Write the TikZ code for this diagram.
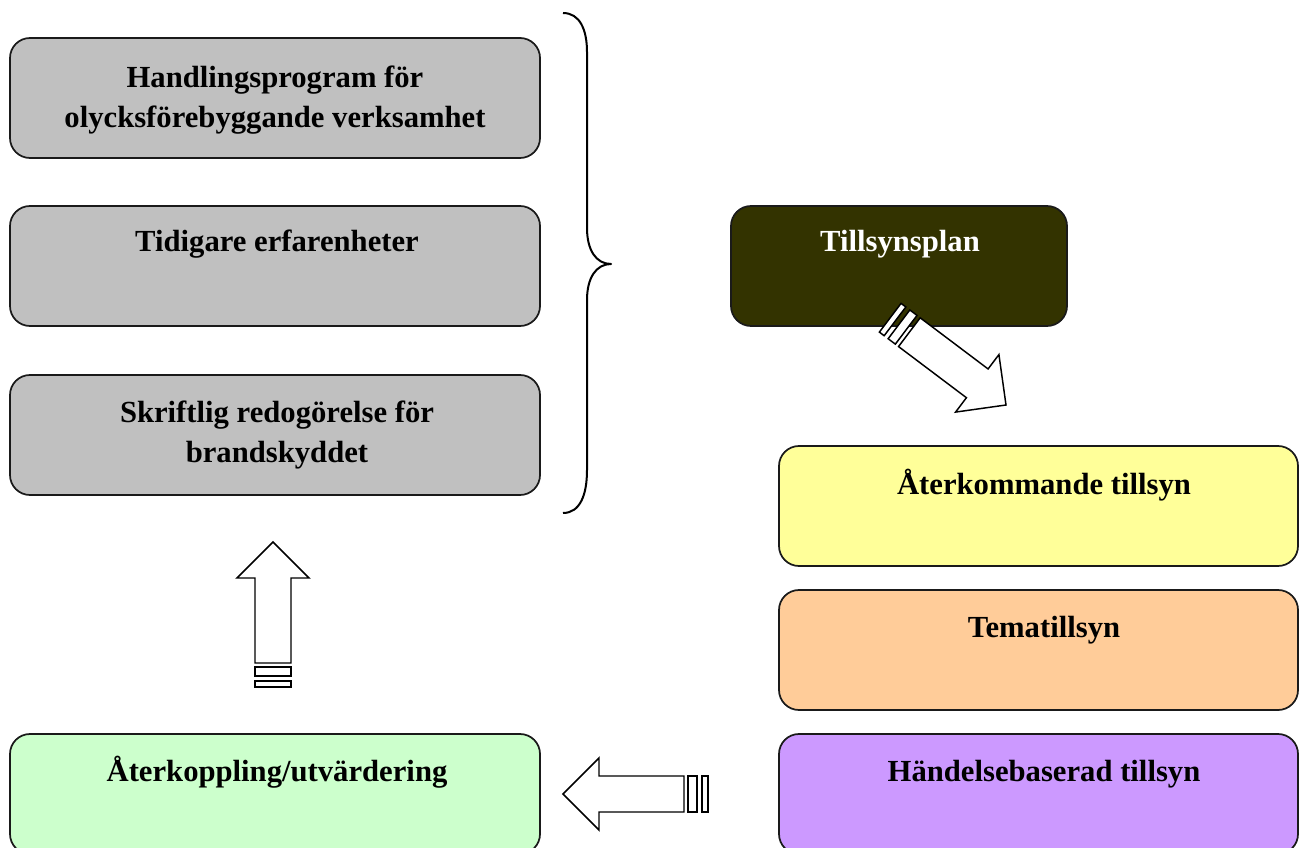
\documentclass[tikz,border=0pt]{standalone}
\usepackage{fontspec}
\setmainfont{Liberation Serif}
\definecolor{boxgray}{HTML}{C0C0C0}
\definecolor{boxolive}{HTML}{333300}
\definecolor{boxyellow}{HTML}{FFFF99}
\definecolor{boxorange}{HTML}{FFCC99}
\definecolor{boxpurple}{HTML}{CC99FF}
\definecolor{boxgreen}{HTML}{CCFFCC}
\definecolor{edge}{HTML}{1A1A1A}
\tikzset{
  box/.style={draw=edge, line width=1.3pt, rounded corners=15pt, rectangle, inner sep=0pt},
  wide/.style={box, minimum width=397.5pt, minimum height=90pt},
  rwide/.style={box, minimum width=389.25pt, minimum height=90pt},
  txt/.style={font=\bfseries\fontsize{23}{30}\selectfont, align=center, inner sep=0pt},
  arr/.style={draw=black, line width=1.1pt, fill=white, line join=miter},
  bracepath/.style={draw=black, line width=1.5pt, line join=round}
}
\newcommand\blockarr{%
  \draw[arr] (0,0) -- (-36,36) -- (-36,18) -- (-121,18) -- (-121,-18) -- (-36,-18) -- (-36,-36) -- cycle;
  \draw[arr] (-125,18) rectangle (-134,-18);
  \draw[arr] (-139,18) rectangle (-145,-18);}
\begin{document}
\begin{tikzpicture}[x=0.75pt,y=-0.75pt]
\useasboundingbox (0,0) rectangle (1299,848);
\clip (0,0) rectangle (1299,848);
% left boxes
\node[wide, fill=boxgray] (hp) at (275,98) {};
\node[txt, anchor=center] (hpt) at (275,100) {Handlingsprogram för\\olycksförebyggande verksamhet};
\node[wide, fill=boxgray] (te) at (275,266) {};
\node[txt, anchor=base] (tet) at (277,252) {Tidigare erfarenheter};
\node[wide, fill=boxgray] (sr) at (275,435) {};
\node[txt, anchor=center] (srt) at (277,435) {Skriftlig redogörelse för\\brandskyddet};
\node[wide, fill=boxgreen] (ak) at (275,794) {};
\node[txt, anchor=base] (akt) at (277,781) {Återkoppling/utvärdering};
% right boxes
\node[box, fill=boxolive, minimum width=252pt, minimum height=90pt] (tp) at (899,266) {};
\node[txt, anchor=base, text=white] (tpt) at (900,252) {Tillsynsplan};
\node[rwide, fill=boxyellow] (at) at (1038.5,506) {};
\node[txt, anchor=base] (att) at (1044,494) {Återkommande tillsyn};
\node[rwide, fill=boxorange] (tm) at (1038.5,650) {};
\node[txt, anchor=base] (tmt) at (1044,637) {Tematillsyn};
\node[rwide, fill=boxpurple] (hb) at (1038.5,794) {};
\node[txt, anchor=base] (hbt) at (1044,781) {Händelsebaserad tillsyn};
% brace
\draw[bracepath] (563,13) .. controls (580,13) and (587,30) .. (587,52) -- (587,228)
  .. controls (587,250) and (596,264) .. (611,264)
  .. controls (596,264) and (587,278) .. (587,300) -- (587,470)
  .. controls (587,495) and (580,513) .. (563,513);
% block arrows
\coordinate (upTip) at (273,542);
\coordinate (leftTip) at (563,794);
\coordinate (diagTip) at (1006,405);
\begin{scope}[shift={(upTip)}, rotate=90]\blockarr\end{scope}
\begin{scope}[shift={(leftTip)}, rotate=180]\blockarr\end{scope}
\begin{scope}[shift={(diagTip)}, rotate=-37]\blockarr\end{scope}
\end{tikzpicture}
\end{document}
